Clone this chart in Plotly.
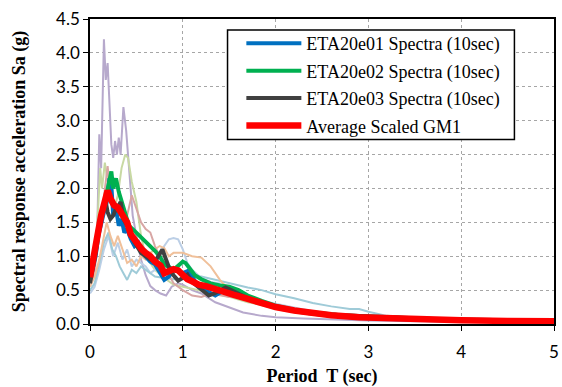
import plotly.graph_objects as go

# ---- faint individual ground motions ----
T_purple = [0, 0.04, 0.08, 0.10, 0.12, 0.14, 0.15, 0.17, 0.19, 0.21, 0.23, 0.25, 0.27, 0.29, 0.31, 0.33, 0.36, 0.39, 0.42, 0.46, 0.50, 0.55, 0.60, 0.65, 0.70, 0.76, 0.82, 0.88, 0.95, 1.0, 1.1, 1.2, 1.35, 1.5, 1.65, 1.85, 2.0, 2.3, 2.6, 3.0, 3.5, 4.0, 4.5, 5.0]
Sa_purple = [0.55, 0.7, 1.5, 2.8, 2.3, 3.9, 4.2, 3.6, 3.85, 3.25, 2.65, 2.45, 2.7, 2.5, 2.75, 2.5, 3.2, 2.85, 2.35, 1.6, 1.3, 0.95, 0.72, 0.56, 0.5, 0.45, 0.42, 0.55, 0.6, 0.58, 0.5, 0.45, 0.32, 0.24, 0.17, 0.12, 0.1, 0.08, 0.065, 0.05, 0.04, 0.035, 0.03, 0.03]

T_olive = [0, 0.04, 0.08, 0.11, 0.13, 0.16, 0.19, 0.22, 0.26, 0.30, 0.34, 0.38, 0.41, 0.45, 0.50, 0.55, 0.60, 0.65, 0.70, 0.80, 0.90, 1.0, 1.1, 1.2, 1.35, 1.5, 1.7, 2.0, 2.3, 2.7, 3.0, 3.5, 4.0, 5.0]
Sa_olive = [0.6, 0.9, 1.5, 2.3, 2.0, 2.38, 2.1, 1.9, 1.7, 1.9, 2.3, 2.5, 2.45, 2.1, 1.8, 1.3, 1.0, 0.9, 0.8, 0.68, 0.58, 0.55, 0.52, 0.48, 0.44, 0.4, 0.32, 0.24, 0.17, 0.12, 0.1, 0.07, 0.05, 0.04]

T_paleblue = [0, 0.05, 0.1, 0.15, 0.2, 0.25, 0.3, 0.35, 0.4, 0.45, 0.5, 0.55, 0.6, 0.65, 0.7, 0.75, 0.8, 0.85, 0.9, 0.95, 1.0, 1.05, 1.1, 1.2, 1.3, 1.4, 1.5, 1.6, 1.8, 2.0, 2.2, 2.4, 2.6, 2.8, 3.0, 3.5, 4.0, 5.0]
Sa_paleblue = [0.45, 0.55, 0.8, 1.1, 1.3, 1.0, 1.2, 0.95, 1.1, 0.85, 0.95, 0.9, 0.85, 0.75, 0.8, 1.0, 1.15, 1.25, 1.27, 1.25, 1.1, 0.9, 0.8, 0.68, 0.62, 0.6, 0.5, 0.45, 0.36, 0.3, 0.24, 0.19, 0.16, 0.13, 0.1, 0.07, 0.05, 0.04]

T_teal = [0, 0.05, 0.1, 0.15, 0.2, 0.24, 0.28, 0.32, 0.36, 0.4, 0.45, 0.5, 0.55, 0.6, 0.7, 0.8, 0.9, 1.0, 1.1, 1.2, 1.35, 1.5, 1.7, 1.85, 2.0, 2.2, 2.4, 2.6, 2.8, 2.9, 3.0, 3.2, 3.5, 4.0, 4.5, 5.0]
Sa_teal = [0.5, 0.6, 0.9, 1.2, 1.35, 1.1, 1.0, 0.85, 0.75, 0.65, 0.8, 0.75, 0.85, 0.8, 0.7, 0.68, 0.66, 0.66, 0.7, 0.7, 0.65, 0.6, 0.54, 0.5, 0.44, 0.38, 0.31, 0.26, 0.22, 0.22, 0.18, 0.12, 0.09, 0.06, 0.05, 0.04]

T_orange = [0, 0.05, 0.1, 0.14, 0.18, 0.22, 0.26, 0.3, 0.35, 0.4, 0.45, 0.5, 0.55, 0.6, 0.65, 0.7, 0.75, 0.8, 0.85, 0.9, 1.0, 1.1, 1.2, 1.3, 1.4, 1.5, 1.6, 1.7, 1.85, 2.0, 2.3, 2.6, 3.0, 3.5, 4.0, 5.0]
Sa_orange = [0.55, 0.7, 0.95, 1.2, 1.5, 1.3, 1.15, 1.3, 1.1, 0.9, 0.95, 0.85, 1.0, 0.95, 1.05, 1.1, 1.15, 1.12, 1.0, 1.05, 1.05, 1.0, 0.98, 0.85, 0.65, 0.5, 0.42, 0.36, 0.28, 0.22, 0.15, 0.11, 0.08, 0.06, 0.05, 0.04]

T_rose = [0, 0.05, 0.1, 0.14, 0.17, 0.19, 0.22, 0.26, 0.3, 0.35, 0.4, 0.45, 0.5, 0.55, 0.6, 0.65, 0.7, 0.75, 0.8, 0.9, 1.0, 1.1, 1.2, 1.3, 1.4, 1.5, 1.6, 1.7, 1.85, 2.0, 2.3, 2.6, 3.0, 3.5, 4.0, 5.0]
Sa_rose = [0.6, 0.8, 1.3, 1.8, 2.1, 2.33, 1.9, 1.7, 1.75, 1.5, 1.6, 1.9, 1.7, 1.5, 1.4, 1.35, 1.15, 1.0, 0.85, 0.6, 0.5, 0.42, 0.4, 0.45, 0.42, 0.4, 0.42, 0.38, 0.3, 0.24, 0.17, 0.13, 0.09, 0.07, 0.05, 0.04]

# ---- highlighted spectra ----
T_e01 = [0, 0.03, 0.06, 0.09, 0.12, 0.15, 0.18, 0.21, 0.23, 0.25, 0.28, 0.31, 0.34, 0.37, 0.40, 0.44, 0.48, 0.52, 0.56, 0.60, 0.65, 0.70, 0.75, 0.80, 0.85, 0.90, 0.95, 1.0, 1.05, 1.1, 1.17, 1.24, 1.3, 1.35, 1.42, 1.48, 1.55, 1.65, 1.8, 2.0, 2.2, 2.4, 2.6, 2.8, 3.0, 3.3, 3.6, 4.0, 4.5, 5.0]
Sa_e01 = [0.65, 0.8, 1.0, 1.3, 1.5, 1.65, 1.8, 2.15, 2.05, 1.6, 1.7, 1.45, 1.55, 1.35, 1.4, 1.25, 1.15, 1.2, 1.05, 1.0, 0.92, 0.88, 0.75, 0.65, 0.7, 0.8, 0.78, 0.75, 0.78, 0.7, 0.55, 0.5, 0.45, 0.42, 0.48, 0.51, 0.45, 0.4, 0.33, 0.25, 0.19, 0.15, 0.12, 0.1, 0.085, 0.07, 0.06, 0.05, 0.04, 0.04]

T_e02 = [0, 0.03, 0.06, 0.09, 0.12, 0.15, 0.18, 0.21, 0.23, 0.25, 0.28, 0.31, 0.34, 0.38, 0.42, 0.46, 0.50, 0.54, 0.58, 0.62, 0.66, 0.70, 0.75, 0.80, 0.85, 0.90, 0.95, 1.0, 1.03, 1.08, 1.13, 1.2, 1.3, 1.4, 1.5, 1.6, 1.7, 1.85, 2.0, 2.2, 2.4, 2.7, 3.0, 3.3, 3.7, 4.0, 4.5, 5.0]
Sa_e02 = [0.75, 0.95, 1.15, 1.35, 1.55, 1.7, 1.9, 2.1, 2.25, 2.0, 2.15, 1.95, 1.8, 1.65, 1.45, 1.4, 1.35, 1.3, 1.25, 1.2, 1.15, 1.08, 1.0, 0.88, 0.84, 0.8, 0.86, 0.92, 0.9, 0.8, 0.72, 0.66, 0.6, 0.57, 0.55, 0.5, 0.42, 0.34, 0.27, 0.21, 0.17, 0.13, 0.11, 0.09, 0.07, 0.06, 0.055, 0.05]

T_e03 = [0, 0.03, 0.06, 0.09, 0.12, 0.15, 0.17, 0.19, 0.22, 0.25, 0.28, 0.31, 0.33, 0.36, 0.40, 0.44, 0.48, 0.51, 0.55, 0.60, 0.65, 0.70, 0.75, 0.78, 0.82, 0.86, 0.90, 0.95, 1.0, 1.05, 1.1, 1.16, 1.22, 1.28, 1.34, 1.4, 1.46, 1.52, 1.6, 1.7, 1.85, 2.0, 2.2, 2.4, 2.7, 3.0, 3.3, 3.7, 4.0, 4.5, 5.0]
Sa_e03 = [0.6, 0.8, 1.05, 1.35, 1.6, 1.75, 1.8, 1.65, 1.55, 1.6, 1.7, 1.75, 1.8, 1.55, 1.45, 1.3, 1.2, 1.12, 1.05, 1.0, 0.95, 0.92, 1.05, 1.1, 0.95, 0.8, 0.72, 0.64, 0.68, 0.73, 0.62, 0.55, 0.48, 0.42, 0.45, 0.5, 0.54, 0.5, 0.44, 0.38, 0.31, 0.25, 0.2, 0.16, 0.13, 0.11, 0.09, 0.075, 0.065, 0.055, 0.05]

T_avg = [0, 0.04, 0.08, 0.12, 0.16, 0.19, 0.22, 0.26, 0.30, 0.33, 0.36, 0.40, 0.44, 0.48, 0.52, 0.56, 0.60, 0.65, 0.70, 0.76, 0.80, 0.84, 0.90, 0.95, 1.0, 1.05, 1.1, 1.17, 1.25, 1.35, 1.45, 1.55, 1.7, 1.85, 2.0, 2.2, 2.4, 2.6, 2.9, 3.2, 3.5, 4.0, 4.5, 5.0]
Sa_avg = [0.69, 0.95, 1.3, 1.6, 1.85, 1.97, 1.85, 1.75, 1.72, 1.65, 1.62, 1.5, 1.32, 1.25, 1.15, 1.1, 1.05, 1.0, 0.92, 0.86, 0.75, 0.78, 0.81, 0.79, 0.72, 0.66, 0.63, 0.58, 0.56, 0.51, 0.47, 0.43, 0.37, 0.31, 0.25, 0.2, 0.16, 0.13, 0.10, 0.085, 0.07, 0.055, 0.045, 0.04]

faint = [
    (T_purple, Sa_purple, "#b7a9cc"),
    (T_olive, Sa_olive, "#c8d9a3"),
    (T_paleblue, Sa_paleblue, "#bccfe6"),
    (T_teal, Sa_teal, "#9fcbd8"),
    (T_orange, Sa_orange, "#f0c09a"),
    (T_rose, Sa_rose, "#d8a6a4"),
]
bold = [
    (T_e01, Sa_e01, "#0070c0", "ETA20e01 Spectra (10sec)", 4),
    (T_e02, Sa_e02, "#00b050", "ETA20e02 Spectra (10sec)", 4),
    (T_e03, Sa_e03, "#404040", "ETA20e03 Spectra (10sec)", 4),
    (T_avg, Sa_avg, "#ff0000", "Average Scaled GM1", 6.5),
]

fig = go.Figure()
for t, s, c in faint:
    fig.add_trace(go.Scatter(x=t, y=s, mode="lines", line=dict(color=c, width=2),
                             showlegend=False, hoverinfo="skip"))
for i, (t, s, c, name, w) in enumerate(bold):
    fig.add_trace(go.Scatter(x=t, y=s, mode="lines", name=name,
                             line=dict(color=c, width=w), legendgroup=f"g{i}"))

# legend frame (white box with black border)
fig.add_shape(type="rect", xref="paper", yref="paper",
              x0=0.2964, x1=0.9147, y0=0.6046, y1=0.964,
              line=dict(color="black", width=1.5), fillcolor="white", layer="above")

fig.update_layout(
    width=562, height=387,
    margin=dict(l=90, r=3, t=19, b=62),
    paper_bgcolor="white", plot_bgcolor="white",
    legend=dict(x=0.3262, y=0.980, xanchor="left", yanchor="top",
                borderwidth=0, bgcolor="rgba(0,0,0,0)",
                font=dict(family="Liberation Serif", size=18, color="black"),
                tracegroupgap=1, itemwidth=55),
)
axis_common = dict(showline=True, linecolor="black", linewidth=1.5, mirror=True,
                   ticks="outside", ticklen=5, tickcolor="black",
                   showgrid=True, gridcolor="#a6a6a6", griddash="3px,3px", gridwidth=1,
                   zeroline=False,
                   tickfont=dict(family="Lato", size=17, color="black"))
fig.update_xaxes(range=[0, 5], dtick=1, tick0=0, ticklabelstandoff=7,
                 title=dict(text="Period  T (sec)", standoff=9,
                            font=dict(family="Liberation Serif", size=18, color="black", weight="bold")),
                 **axis_common)
fig.update_yaxes(range=[0, 4.5], dtick=0.5, tick0=0, tickformat=".1f",
                 title=dict(text="Spectral response acceleration Sa (g)", standoff=26,
                            font=dict(family="Liberation Serif", size=18, color="black", weight="bold")),
                 **axis_common)

fig.write_html("out.html")
